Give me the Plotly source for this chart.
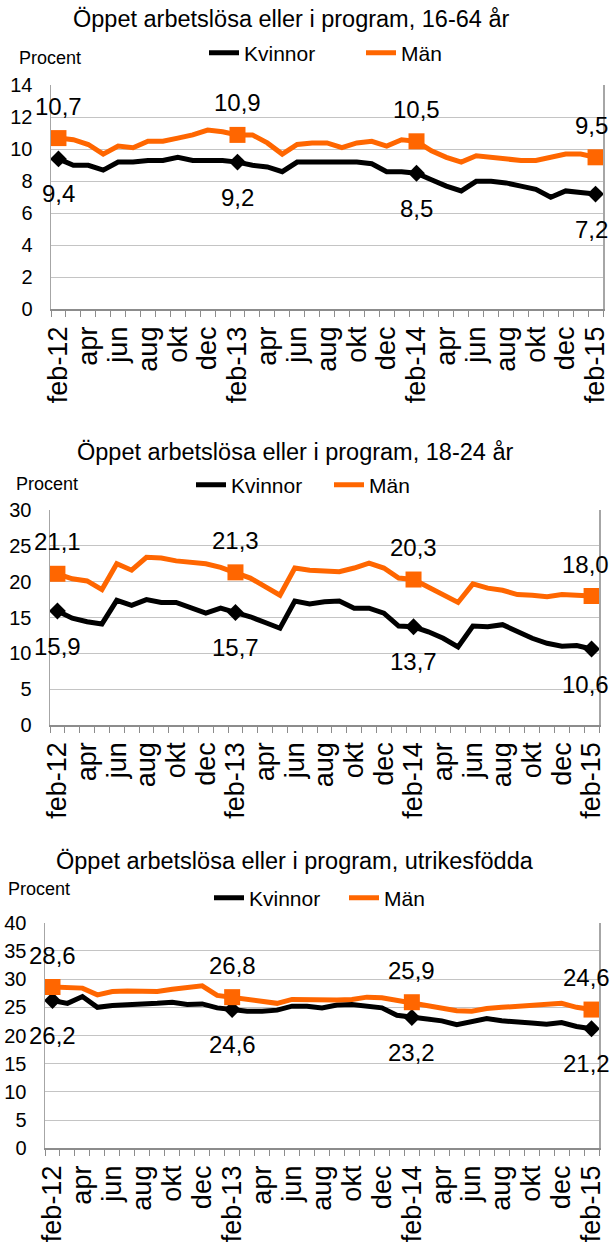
import plotly.graph_objects as go

# ---------------- data ----------------
months = ["feb-12", "mar-12", "apr-12", "maj-12", "jun-12", "jul-12", "aug-12", "sep-12", "okt-12", "nov-12",
          "dec-12", "jan-13", "feb-13", "mar-13", "apr-13", "maj-13", "jun-13", "jul-13", "aug-13", "sep-13",
          "okt-13", "nov-13", "dec-13", "jan-14", "feb-14", "mar-14", "apr-14", "maj-14", "jun-14", "jul-14",
          "aug-14", "sep-14", "okt-14", "nov-14", "dec-14", "jan-15", "feb-15"]
tick_labels = ["feb-12", "apr", "jun", "aug", "okt", "dec", "feb-13", "apr", "jun", "aug", "okt", "dec",
               "feb-14", "apr", "jun", "aug", "okt", "dec", "feb-15"]
marked_months = ["feb-12", "feb-13", "feb-14", "feb-15"]

titles = ["Öppet arbetslösa eller i program, 16-64 år",
          "Öppet arbetslösa eller i program, 18-24 år",
          "Öppet arbetslösa eller i program, utrikesfödda"]

kvinnor_16_64 = [9.4, 9.0, 9.0, 8.7, 9.2, 9.2, 9.3, 9.3, 9.5, 9.3, 9.3, 9.3, 9.2, 9.0, 8.9, 8.6, 9.2, 9.2, 9.2,
                 9.2, 9.2, 9.1, 8.6, 8.6, 8.5, 8.1, 7.7, 7.4, 8.0, 8.0, 7.9, 7.7, 7.5, 7.0, 7.4, 7.3, 7.2]
man_16_64 = [10.7, 10.6, 10.3, 9.7, 10.2, 10.1, 10.5, 10.5, 10.7, 10.9, 11.2, 11.1, 10.9, 10.9, 10.4, 9.7, 10.3,
             10.4, 10.4, 10.1, 10.4, 10.5, 10.2, 10.6, 10.5, 9.9, 9.5, 9.2, 9.6, 9.5, 9.4, 9.3, 9.3, 9.5, 9.7,
             9.7, 9.5]

kvinnor_18_24 = [15.9, 14.9, 14.4, 14.1, 17.4, 16.7, 17.5, 17.1, 17.1, 16.4, 15.6, 16.3, 15.7, 15.1, 14.3, 13.5,
                 17.3, 16.9, 17.2, 17.3, 16.3, 16.3, 15.6, 13.8, 13.7, 13.0, 12.1, 10.9, 13.8, 13.7, 14.0, 13.0,
                 12.1, 11.4, 11.0, 11.1, 10.6]
man_18_24 = [21.1, 20.4, 20.1, 18.9, 22.5, 21.6, 23.4, 23.3, 22.9, 22.7, 22.5, 22.0, 21.3, 20.5, 19.3, 18.1,
             21.9, 21.6, 21.5, 21.4, 21.9, 22.6, 21.9, 20.5, 20.3, 19.2, 18.1, 17.1, 19.7, 19.1, 18.8, 18.2,
             18.1, 17.9, 18.2, 18.1, 18.0]

kvinnor_utrikes = [26.2, 25.7, 26.9, 25.0, 25.3, 25.4, 25.4, 25.7, 25.9, 25.5, 25.6, 24.9, 24.6, 24.3, 24.3,
                   24.5, 25.2, 25.2, 24.9, 25.4, 25.5, 25.2, 24.9, 23.6, 23.2, 22.9, 22.6, 21.9, 22.5, 23.0,
                   22.6, 22.3, 22.2, 22.0, 22.3, 21.6, 21.2]
man_utrikes = [28.6, 28.5, 28.4, 27.2, 27.8, 27.9, 27.9, 27.8, 28.2, 28.5, 28.8, 27.1, 26.8, 26.3, 26.0, 25.7,
               26.4, 26.3, 26.2, 26.3, 26.4, 26.8, 26.7, 26.2, 25.9, 25.3, 24.7, 24.4, 24.3, 24.8, 25.0, 25.2,
               25.5, 25.7, 25.7, 25.0, 24.6]

y_max = [14, 30, 40]
y_dtick = [2, 5, 5]

# ---------------- layout / styling ----------------
W, H = 614, 1245
FONT = "Liberation Sans, Arial, sans-serif"
BLACK = "#000000"
ORANGE = "#ff6600"


def px_x(v):
    return v / W


def px_y(v):
    return 1 - v / H


panels = [
    dict(title=titles[0], kv=kvinnor_16_64, man=man_16_64, ymax=y_max[0], dtick=y_dtick[0],
         left=51, right=603, top=85.3, bottom=309.3, title_xy=(290.5, 19), procent_xy=(17, 58),
         legend_xy=(204, 53), entry=112, last_shift=-4),
    dict(title=titles[1], kv=kvinnor_18_24, man=man_18_24, ymax=y_max[1], dtick=y_dtick[1],
         left=50, right=599, top=510, bottom=725, title_xy=(295, 452), procent_xy=(14, 484),
         legend_xy=(191, 485), entry=93, last_shift=-6),
    dict(title=titles[2], kv=kvinnor_utrikes, man=man_utrikes, ymax=y_max[2], dtick=y_dtick[2],
         left=45, right=599, top=922.7, bottom=1148.3, title_xy=(295, 861), procent_xy=(6, 889),
         legend_xy=(209, 898), entry=90, last_shift=-5),
]


def fmt(v):
    return f"{v:.1f}".replace(".", ",")


fig = go.Figure()
annotations = []
layout_axes = {}

x_ticktext = [tick_labels[i // 2] if i % 2 == 0 else "" for i in range(len(months))]

for k, p in enumerate(panels, start=1):
    sfx = "" if k == 1 else str(k)
    xa, ya, lg = "x" + sfx, "y" + sfx, "legend" + sfx

    fig.add_trace(go.Scatter(x=months, y=p["kv"], mode="lines", name="Kvinnor",
                             line=dict(color=BLACK, width=5), xaxis=xa, yaxis=ya, legend=lg,
                             hoverinfo="skip"))
    fig.add_trace(go.Scatter(x=months, y=p["man"], mode="lines", name="Män",
                             line=dict(color=ORANGE, width=5), xaxis=xa, yaxis=ya, legend=lg,
                             hoverinfo="skip"))
    idx = [months.index(m) for m in marked_months]
    fig.add_trace(go.Scatter(x=marked_months, y=[p["kv"][i] for i in idx], mode="markers",
                             marker=dict(symbol="diamond", size=13, color=BLACK),
                             showlegend=False, xaxis=xa, yaxis=ya, cliponaxis=False, hoverinfo="skip"))
    fig.add_trace(go.Scatter(x=marked_months, y=[p["man"][i] for i in idx], mode="markers",
                             marker=dict(symbol="square", size=16, color=ORANGE),
                             showlegend=False, xaxis=xa, yaxis=ya, cliponaxis=False, hoverinfo="skip"))

    for m, i in zip(marked_months, idx):
        xs = p["last_shift"] if m == marked_months[-1] else 0
        annotations.append(dict(x=m, y=p["man"][i], xref=xa, yref=ya, text=fmt(p["man"][i]),
                                showarrow=False, yshift=32, xshift=xs,
                                font=dict(family=FONT, size=24, color=BLACK)))
        annotations.append(dict(x=m, y=p["kv"][i], xref=xa, yref=ya, text=fmt(p["kv"][i]),
                                showarrow=False, yshift=-35, xshift=xs,
                                font=dict(family=FONT, size=24, color=BLACK)))

    annotations.append(dict(x=px_x(p["title_xy"][0]), y=px_y(p["title_xy"][1]), xref="paper", yref="paper",
                            text=p["title"], showarrow=False, xanchor="center", yanchor="middle",
                            font=dict(family=FONT, size=23.5, color=BLACK)))
    annotations.append(dict(x=px_x(p["procent_xy"][0]), y=px_y(p["procent_xy"][1]), xref="paper", yref="paper",
                            text="Procent", showarrow=False, xanchor="left", yanchor="middle",
                            font=dict(family=FONT, size=18, color=BLACK)))

    layout_axes["xaxis" + sfx] = dict(
        domain=[px_x(p["left"]), min(1.0, px_x(p["right"]))], anchor=ya,
        type="category", categoryorder="array", categoryarray=months, range=[-0.5, len(months) - 0.5],
        tickmode="array", tickvals=months, ticktext=x_ticktext, tickangle=-90, tickson="boundaries",
        ticks="outside", ticklen=6, tickwidth=1, tickcolor="#8c8c8c", ticklabelstandoff=5,
        showgrid=False, zeroline=False, showline=True, linecolor="#8c8c8c", linewidth=1.5,
        tickfont=dict(family=FONT, size=27, color=BLACK), automargin=False, fixedrange=True)
    layout_axes["yaxis" + sfx] = dict(
        domain=[px_y(p["bottom"]), px_y(p["top"])], anchor=xa,
        range=[0, p["ymax"]], tick0=0, dtick=p["dtick"], tickmode="linear",
        showgrid=True, gridcolor="#c4c4c4", gridwidth=1, zeroline=False,
        showline=True, linecolor="#a6a6a6", linewidth=1.5, mirror=True, ticks="",
        ticklabelstandoff=13,
        tickfont=dict(family=FONT, size=20, color=BLACK), automargin=False, fixedrange=True)
    layout_axes[lg] = dict(
        orientation="h", x=px_x(p["legend_xy"][0]), y=px_y(p["legend_xy"][1]),
        xanchor="left", yanchor="middle", font=dict(family=FONT, size=21, color=BLACK),
        entrywidth=p["entry"], entrywidthmode="pixels", bgcolor="rgba(0,0,0,0)",
        borderwidth=0, itemclick=False, itemdoubleclick=False)

fig.update_layout(
    width=W, height=H, autosize=False,
    margin=dict(l=0, r=0, t=0, b=0, pad=0),
    paper_bgcolor="white", plot_bgcolor="white",
    font=dict(family=FONT, color=BLACK),
    showlegend=True,
    hovermode=False,
    annotations=annotations,
    **layout_axes,
)

fig.write_html("out.html",
               config={"displayModeBar": False, "staticPlot": True},
               post_script="document.body.style.margin='0px';document.body.style.overflow='hidden';")
